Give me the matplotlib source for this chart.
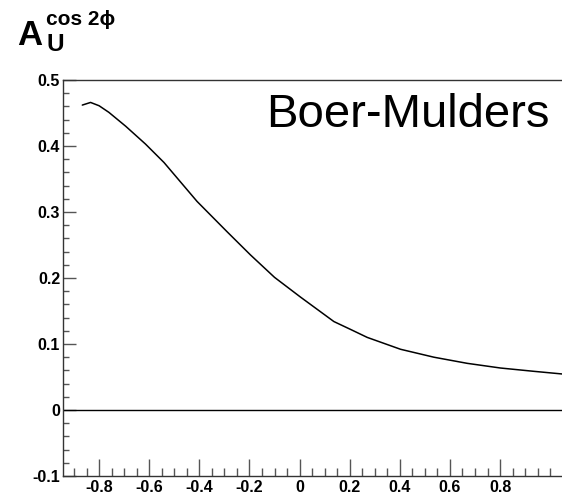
import matplotlib
matplotlib.use("Agg")
import matplotlib.pyplot as plt
from matplotlib.ticker import MultipleLocator, FixedLocator

x_vals = [-0.867, -0.834, -0.800, -0.761, -0.694, -0.615, -0.541, -0.409, -0.289,
          -0.196, -0.100, 0.004, 0.137, 0.204, 0.270, 0.403, 0.536, 0.669, 0.802,
          0.935, 1.050]
asym = [0.462, 0.466, 0.461, 0.451, 0.430, 0.403, 0.375, 0.316, 0.270,
        0.235, 0.201, 0.171, 0.134, 0.122, 0.110, 0.092, 0.080, 0.0707, 0.0636,
        0.0586, 0.0545]
x_ticks = [-0.8, -0.6, -0.4, -0.2, 0, 0.2, 0.4, 0.6, 0.8]
x_tick_labels = ["-0.8", "-0.6", "-0.4", "-0.2", "0", "0.2", "0.4", "0.6", "0.8"]
y_ticks = [-0.1, 0, 0.1, 0.2, 0.3, 0.4, 0.5]
y_tick_labels = ["-0.1", "0", "0.1", "0.2", "0.3", "0.4", "0.5"]

fam = ["Liberation Sans", "DejaVu Sans"]
plt.rcParams["font.family"] = fam

W, H = 562, 494
fig = plt.figure(figsize=(W / 100, H / 100), dpi=100)
left, top, bottom = 63, 80, 476
xmin, xmax = -0.944, 1.06
pxu = 250.6
right = left + (xmax - xmin) * pxu
ax = fig.add_axes([left / W, (H - bottom) / H, (right - left) / W, (bottom - top) / H])
ax.set_xlim(xmin, xmax)
ax.set_ylim(-0.1, 0.5)

ax.plot(x_vals, asym, color="black", lw=1.1, solid_capstyle="round",
        solid_joinstyle="round")
ax.axhline(0, color="black", lw=1.0)

for s in ax.spines.values():
    s.set_color("#333333")
    s.set_linewidth(1.0)

ax.xaxis.set_major_locator(FixedLocator(x_ticks))
ax.set_xticklabels(x_tick_labels)
ax.xaxis.set_minor_locator(MultipleLocator(0.05))
ax.yaxis.set_major_locator(FixedLocator(y_ticks))
ax.set_yticklabels(y_tick_labels)
ax.yaxis.set_minor_locator(MultipleLocator(0.02))

ax.tick_params(axis="x", which="major", direction="in", length=12, width=1.0,
               color="#555555", pad=3, labelsize=11.5, top=False)
ax.tick_params(axis="x", which="minor", direction="in", length=6, width=1.0,
               color="#555555", top=False)
ax.tick_params(axis="y", which="major", direction="in", length=9.5, width=1.0,
               color="#555555", pad=2, labelsize=11.5, right=False)
ax.tick_params(axis="y", which="minor", direction="in", length=4.5, width=1.0,
               color="#555555", right=False)
for lab in ax.get_xticklabels() + ax.get_yticklabels():
    lab.set_fontweight("bold")

ax.text(550 / W, 1 - 127 / H, "Boer-Mulders", transform=fig.transFigure,
        ha="right", va="baseline", fontsize=34, family=fam)

fig.text(17 / W, 1 - 45 / H, "A", fontsize=25, fontweight="bold",
         ha="left", va="baseline", family=fam)
fig.text(46 / W, 1 - 25 / H, "cos 2\u03d5", fontsize=15, fontweight="bold",
         ha="left", va="baseline", family=fam)
fig.text(46 / W, 1 - 51 / H, "U", fontsize=17.5, fontweight="bold",
         ha="left", va="baseline", family=fam)

fig.savefig("out.png", dpi=100)
